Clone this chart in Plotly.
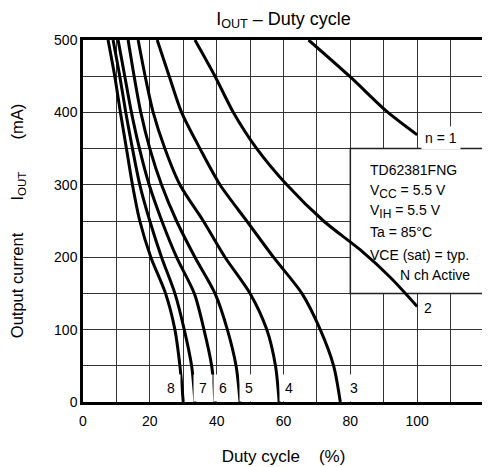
import plotly.graph_objects as go

# ---------------- data ----------------
curve_names = ["1", "2", "3", "4", "5", "6", "7", "8"]

y_common = [500, 450, 400, 350, 300, 250, 200, 150, 100, 50, 0]

curve1_x = [67.5, 80, 91, 100]
curve1_y = [500, 449, 401, 369]

curve2_x = [33.5, 39.5, 45, 52, 61, 72, 83, 92, 100]
curve2_y = [500, 450, 400, 350, 300, 250, 210, 172, 132]

curve3_x = [22.2, 25.8, 29.5, 35.0, 41.0, 49.0, 57.0, 65.5, 71.0, 75.0, 77.0]
curve4_x = [16.5, 18.6, 21.0, 24.5, 29.0, 36.0, 42.5, 50.0, 55.0, 57.6, 58.7]
curve5_x = [13.5, 15.3, 17.3, 20.0, 23.5, 28.0, 33.5, 39.5, 43.2, 45.8, 47.0]
curve6_x = [10.5, 12.5, 14.5, 16.9, 19.8, 23.6, 28.0, 33.3, 36.2, 38.5, 39.5]
curve7_x = [9.0, 11.0, 12.8, 14.8, 17.0, 20.0, 23.5, 27.5, 30.3, 32.5, 33.5]
curve8_x = [7.5, 9.5, 11.2, 13.0, 14.8, 17.0, 20.3, 24.7, 27.5, 29.0, 30.0]

x_ticks = [0, 20, 40, 60, 80, 100]
y_ticks = [0, 100, 200, 300, 400, 500]
x_range = [0, 120]
y_range = [0, 500]

# curve labels (text, x, y)
bottom_labels = ["8", "7", "6", "5", "4", "3"]
bottom_label_x = [26.3, 35.8, 42.0, 49.8, 61.5, 81.1]
bottom_label_y = 19
n1_label = ("n = 1", 107.2, 365)
n2_label = ("2", 103.3, 130)

# condition box
box_x = [80, 120]
box_y = [150, 350]
cond_lines = ["TD62381FNG",
              "V<sub><span style='font-size:12px'>CC</span></sub> = 5.5 V",
              "V<sub><span style='font-size:12px'>IH</span></sub> = 5.5 V",
              "Ta = 85°C", "VCE (sat) = typ."]
cond_y = [320, 291, 263, 235, 203]
cond_x = 85.3
cond_last = ("N ch Active", 116.5, 175)

FONT = "Liberation Sans, Arial, sans-serif"
SP = "\u00a0"

fig = go.Figure()

# white condition box hides the grid
fig.add_shape(type="rect", x0=box_x[0], x1=box_x[1], y0=box_y[0], y1=box_y[1],
              xref="x", yref="y", layer="between",
              fillcolor="white", line=dict(color="#222", width=1.5))

series = [
    (curve1_x, curve1_y), (curve2_x, curve2_y),
    (curve3_x, y_common), (curve4_x, y_common), (curve5_x, y_common),
    (curve6_x, y_common), (curve7_x, y_common), (curve8_x, y_common),
]
for name, (xs, ys) in zip(curve_names, series):
    fig.add_trace(go.Scatter(x=xs, y=ys, mode="lines", name=name,
                             line=dict(color="black", width=3, shape="spline", smoothing=0.8),
                             showlegend=False, hoverinfo="skip"))

ann = []
for t, xv in zip(bottom_labels, bottom_label_x):
    ann.append(dict(x=xv, y=bottom_label_y, text=t, showarrow=False,
                    bgcolor="white", borderpad=5, font=dict(size=14, color="black", family=FONT)))
for t, xv, yv in [n1_label, n2_label]:
    ann.append(dict(x=xv, y=yv, text=t, showarrow=False,
                    bgcolor="white", borderpad=3, font=dict(size=14, color="black", family=FONT)))
for t, yv in zip(cond_lines, cond_y):
    ann.append(dict(x=cond_x, y=yv, text=t, showarrow=False, xanchor="left",
                    font=dict(size=14, color="black", family=FONT)))
ann.append(dict(x=cond_last[1], y=cond_last[2], text=cond_last[0], showarrow=False,
                xanchor="right", font=dict(size=14, color="black", family=FONT)))

grid_color = "#333"
# page body adds an 8px offset; the figure is sized to fill the remaining window
fig.update_layout(
    width=482, height=459,
    margin=dict(l=75, r=6, t=32, b=65, autoexpand=False),
    paper_bgcolor="white", plot_bgcolor="white",
    font=dict(family=FONT, size=14, color="black"),
    title=dict(text="I<sub>OUT</sub> – Duty cycle", x=0.5, xref="paper",
               y=1 - 4 / 459, yref="container", yanchor="top", xanchor="center",
               font=dict(size=18, family=FONT, color="black")),
    annotations=ann,
    xaxis=dict(range=x_range, tickvals=x_ticks, showgrid=True, gridcolor=grid_color, gridwidth=1.3,
               minor=dict(dtick=10, tick0=0, showgrid=True, gridcolor=grid_color, gridwidth=1),
               showline=True, linecolor="black", linewidth=2.5, mirror=True,
               ticks="outside", ticklen=4, tickcolor="rgba(0,0,0,0)", zeroline=False,
               tickfont=dict(size=14, family=FONT),
               title=dict(text="Duty cycle" + SP * 4 + "(%)", standoff=23,
                          font=dict(size=17, family=FONT))),
    yaxis=dict(range=y_range, tickvals=y_ticks, showgrid=True, gridcolor=grid_color, gridwidth=1.3,
               minor=dict(dtick=50, tick0=0, showgrid=True, gridcolor=grid_color, gridwidth=1),
               showline=True, linecolor="black", linewidth=2.5, mirror=True,
               ticks="", zeroline=False,
               tickfont=dict(size=14, family=FONT),
               title=dict(text="Output current" + SP * 7 + "I<sub>OUT</sub>" + SP * 7 + "(mA)",
                          standoff=28, font=dict(size=16.5, family=FONT))),
)

fig.write_html("out.html")
